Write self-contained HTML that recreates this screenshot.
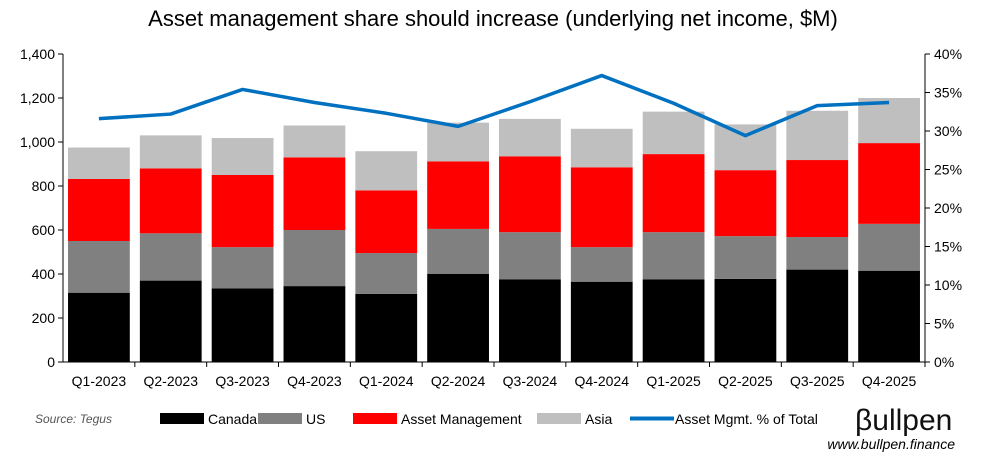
<!DOCTYPE html>
<html><head><meta charset="utf-8"><style>
body{margin:0;background:#fff;font-family:"Liberation Sans Narrow","Liberation Sans",sans-serif;}
svg text{font-family:"Liberation Sans Narrow","Liberation Sans",sans-serif;}
</style></head><body>
<svg id="c" width="987" height="465" viewBox="0 0 987 465">
<text x="493" y="26" text-anchor="middle" font-size="22" fill="#000" style="font-family:'Liberation Sans',sans-serif">Asset management share should increase (underlying net income, $M)</text>
<g id="plot"></g>
<text x="35" y="423" font-size="12" font-style="italic" fill="#555">Source: Tegus</text>
<g>
<rect x="160" y="413" width="44" height="11" fill="#000"/>
<text x="208" y="424" font-size="14">Canada</text>
<rect x="258" y="413" width="44" height="11" fill="#808080"/>
<text x="306" y="424" font-size="14">US</text>
<rect x="353" y="413" width="44" height="11" fill="#ff0000"/>
<text x="401" y="424" font-size="14">Asset Management</text>
<rect x="537" y="413" width="44" height="11" fill="#bfbfbf"/>
<text x="585" y="424" font-size="14">Asia</text>
<line x1="630" y1="418.5" x2="674" y2="418.5" stroke="#0070c0" stroke-width="4"/>
<text x="675" y="424" font-size="14">Asset Mgmt. % of Total</text>
</g>
<text x="855" y="430" font-size="30" fill="#111">βullpen</text>
<text x="955" y="449" text-anchor="end" font-size="14" font-style="italic" fill="#000">www.bullpen.finance</text>
</svg>
<script>
const categories=["Q1-2023","Q2-2023","Q3-2023","Q4-2023","Q1-2024","Q2-2024","Q3-2024","Q4-2024","Q1-2025","Q2-2025","Q3-2025","Q4-2025"];
const canada=[315,370,335,345,310,400,375,365,375,378,420,415];
const us=[235,215,187,255,185,205,215,157,215,194,148,213];
const assetMgmt=[282,295,328,330,285,307,345,363,355,300,350,367];
const asia=[143,150,168,145,178,176,170,175,193,208,224,205];
const amPct=[31.6,32.2,35.4,33.7,32.3,30.6,33.8,37.2,33.6,29.4,33.3,33.7];
const leftTicks=["0","200","400","600","800","1,000","1,200","1,400"];
const rightTicks=["0%","5%","10%","15%","20%","25%","30%","35%","40%"];
const NS="http://www.w3.org/2000/svg";
const g=document.getElementById('plot');
const X0=63,X1=925,Y0=362,Y1=54;
const band=(X1-X0)/categories.length;
const yL=v=>Y0-(v/1400)*(Y0-Y1);
const yR=v=>Y0-(v/40)*(Y0-Y1);
const xC=i=>X0+band*(i+0.5);
function mk(t,a){const e=document.createElementNS(NS,t);for(const k in a)e.setAttribute(k,a[k]);g.appendChild(e);return e;}
leftTicks.forEach((t,i)=>{const y=yL(i*200);
const l=mk('line',{x1:X0-5,x2:X0,y1:y,y2:y,stroke:'#000'});


const tx=mk('text',{x:X0-8,y:y+5,'text-anchor':'end','font-size':14});tx.textContent=t;

});
rightTicks.forEach((t,i)=>{const y=yR(i*5);
const l=mk('line',{x1:X1,x2:X1+5,y1:y,y2:y,stroke:'#000'});


const tx=mk('text',{x:X1+9,y:y+5,'text-anchor':'start','font-size':14});tx.textContent=t;

});
const series=[[canada,'#000','canada'],[us,'#808080','us'],[assetMgmt,'#ff0000','asset-management'],[asia,'#bfbfbf','asia']];
const bw=band*0.86;
categories.forEach((c,i)=>{let base=0;
series.forEach(([arr,col,nm])=>{const v=arr[i];
const r=mk('rect',{x:xC(i)-bw/2,y:yL(base+v),width:bw,height:yL(base)-yL(base+v),fill:col});


base+=v;});
const tk=mk('line',{x1:X0+band*(i+1),x2:X0+band*(i+1),y1:Y0,y2:Y0+5,stroke:'#000'});


const tx=mk('text',{x:xC(i),y:386,'text-anchor':'middle','font-size':14});tx.textContent=c;

});
const ax=mk('path',{d:`M${X0},${Y1}V${Y0}H${X1}V${Y1}`,fill:'none',stroke:'#000'});


const ln=mk('polyline',{points:amPct.map((v,i)=>xC(i)+','+yR(v)).join(' '),fill:'none',stroke:'#0070c0','stroke-width':3.5,'stroke-linejoin':'round'});


</script>
</body></html>
